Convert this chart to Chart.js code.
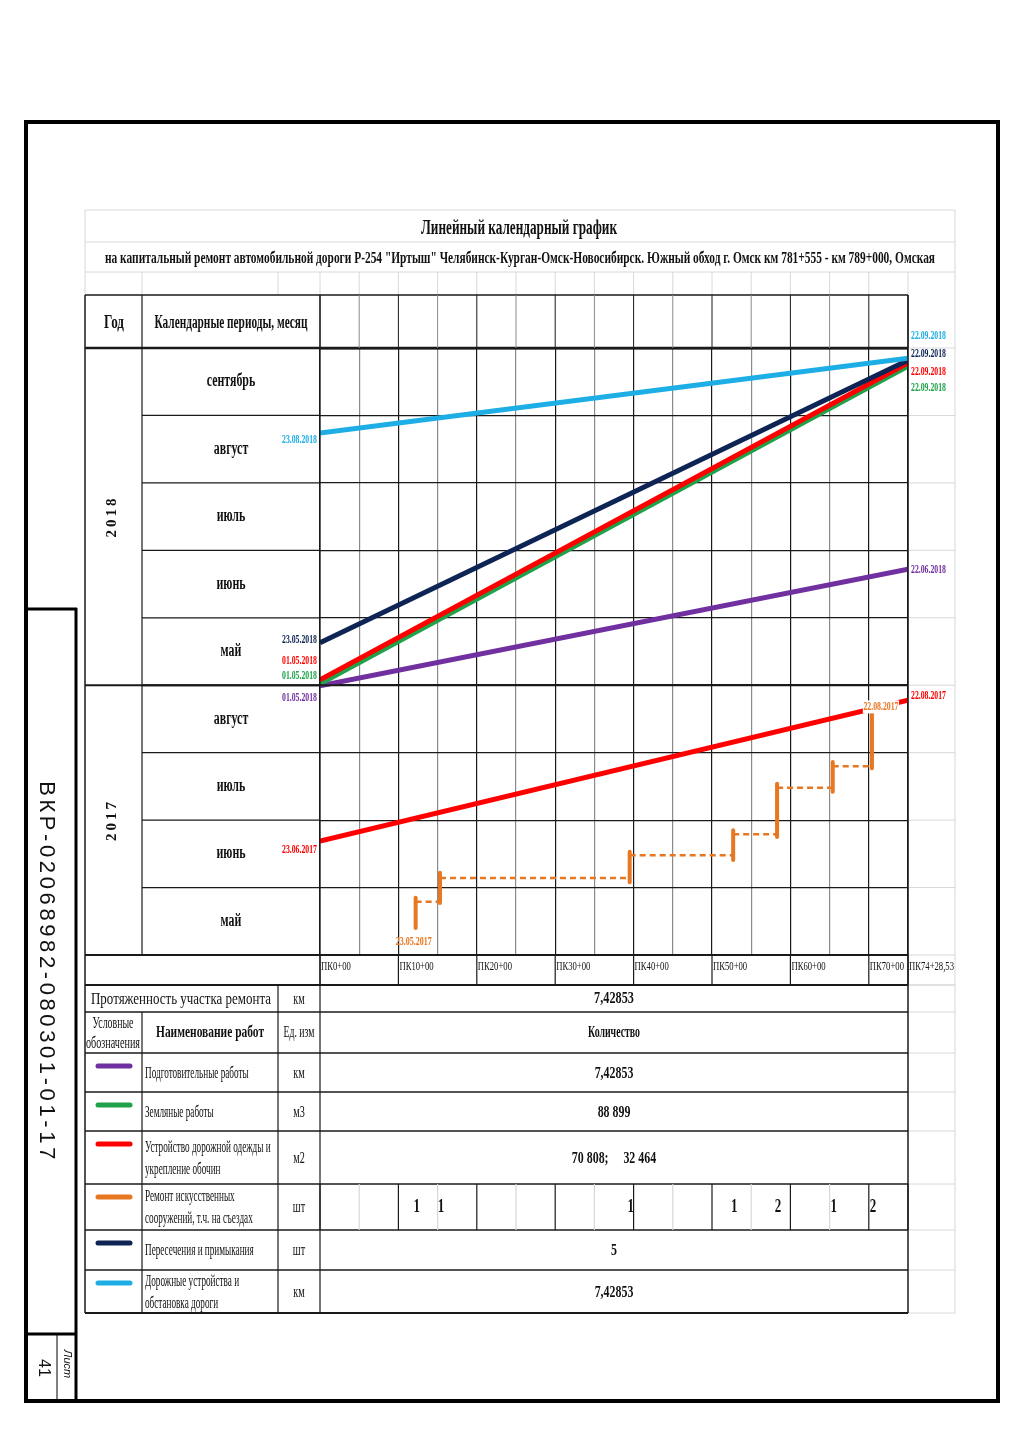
<!DOCTYPE html>
<html>
<head>
<meta charset="utf-8">
<script src="https://cdn.jsdelivr.net/npm/chart.js@4.4.0/dist/chart.umd.min.js"></script>
<style>
  html, body { margin: 0; padding: 0; background: #fff; }
  canvas { display: block; }
</style>
</head>
<body>
<canvas id="grafik" width="1024" height="1449"></canvas>
<script>
// rows of the calendar, from the bottom up
const months = ['май', 'июнь', 'июль', 'август', 'май', 'июнь', 'июль', 'август', 'сентябрь'];
const years = ['2017', '2018'];
const yearRows = [4, 5];

// pickets along the road (right edge of grid = ПК74+28,53)
const END_PK = 75;
const pkTicks = [0, 10, 20, 30, 40, 50, 60, 70, 75];
const pkLabels = ['ПК0+00', 'ПК10+00', 'ПК20+00', 'ПК30+00', 'ПК40+00', 'ПК50+00', 'ПК60+00', 'ПК70+00', 'ПК74+28,53'];

// straight work lines, y in calendar rows
const lineKeys = ['signs', 'cross', 'pave', 'earth', 'prep', 'pave'];
const lineStart = [7.74, 4.63, 4.08, 4.02, 3.99, 1.69];
const lineEnd = [8.85, 8.82, 8.78, 8.73, 5.72, 3.78];
const lineStartDate = ['23.08.2018', '23.05.2018', '01.05.2018', '01.05.2018', '01.05.2018', '23.06.2017'];
const lineEndDate = ['22.09.2018', '22.09.2018', '22.09.2018', '22.09.2018', '22.06.2018', '22.08.2017'];

// bridges / structures (orange steps)
const bridgePK = [12.2, 15.3, 39.5, 52.7, 58.3, 65.4, 70.4];
const bridgeFrom = [0.40, 0.77, 1.08, 1.41, 1.75, 2.42, 2.77];
const bridgeTo = [0.85, 1.22, 1.53, 1.85, 2.54, 2.86, 3.59];
const bridgeLink = [0.79, 1.14, 1.48, 1.79, 2.48, 2.80];
const bridgeCount = [1, 1, 1, 1, 2, 1, 2];
const bridgeDates = ['23.05.2017', '22.08.2017'];

// works table
const workKeys = ['prep', 'earth', 'pave', 'bridge', 'cross', 'signs'];
const workNames = [
  ['Подготовительные работы'],
  ['Земляные работы'],
  ['Устройство дорожной одежды и', 'укрепление обочин'],
  ['Ремонт искусственных', 'сооружений, т.ч. на съездах'],
  ['Пересечения и примыкания'],
  ['Дорожные устройства и', 'обстановка дороги']
];
const workUnits = ['км', 'м3', 'м2', 'шт', 'шт', 'км'];
const workQty = ['7,42853', '88 899', '70 808;     32 464', '', '5', '7,42853'];
const sectionLength = '7,42853';

const colors = {
  prep: '#7030a0',
  earth: '#1fa24a',
  pave: '#ff0000',
  bridge: '#e87722',
  cross: '#0e2454',
  signs: '#1eaee6'
};

// label offsets (px) next to line ends
const startLabelDy = [7, -3, -19, -8, 12, 9];
const endLabelDy = [-22, -6, 9, 21, 0, -4];

const datasets = lineKeys.map((k, i) => ({
  data: [{ x: 0, y: lineStart[i] }, { x: END_PK, y: lineEnd[i] }],
  borderColor: colors[k],
  borderWidth: 5,
  borderCapStyle: 'butt'
}));

const bridgeSolid = [];
bridgePK.forEach((pk, i) => {
  bridgeSolid.push({ x: pk, y: bridgeFrom[i] }, { x: pk, y: bridgeTo[i] }, { x: pk, y: null });
});
const bridgeDashed = [];
bridgeLink.forEach((lv, i) => {
  bridgeDashed.push({ x: bridgePK[i], y: lv }, { x: bridgePK[i + 1], y: lv }, { x: bridgePK[i + 1], y: null });
});
datasets.push({ data: bridgeSolid, borderColor: colors.bridge, borderWidth: 4, borderCapStyle: 'round' });
datasets.push({ data: bridgeDashed, borderColor: colors.bridge, borderWidth: 2.5, borderDash: [6, 4] });

function txt(ctx, s, x, y, o = {}) {
  ctx.save();
  ctx.font = (o.italic ? 'italic ' : '') + (o.bold ? 'bold ' : '') + (o.size || 14) + 'px ' + (o.family || '"Liberation Serif"');
  ctx.fillStyle = o.color || '#111';
  ctx.textBaseline = 'middle';
  ctx.textAlign = o.align || 'center';
  if (o.spacing) ctx.letterSpacing = o.spacing;
  ctx.translate(x, y);
  if (o.rot) ctx.rotate(o.rot);
  let sx = o.sx || 0.74;
  if (o.w) sx = o.w / ctx.measureText(s).width;
  ctx.scale(sx, 1);
  if (o.bg) {
    const w = ctx.measureText(s).width;
    const x0 = ctx.textAlign === 'center' ? -w / 2 : ctx.textAlign === 'right' ? -w : 0;
    ctx.fillStyle = o.bg;
    ctx.fillRect(x0 - 1, -(o.size || 14) * 0.5, w + 2, (o.size || 14));
    ctx.fillStyle = o.color || '#111';
  }
  ctx.fillText(s, 0, 0);
  ctx.restore();
}

function ln(ctx, x1, y1, x2, y2, color, w) {
  ctx.save();
  ctx.strokeStyle = color;
  ctx.lineWidth = w;
  ctx.beginPath();
  ctx.moveTo(x1, y1);
  ctx.lineTo(x2, y2);
  ctx.stroke();
  ctx.restore();
}

const DARK = '#1a1a1a';
const MINOR = '#8a8a8a';
const LIGHT = '#d8d8d8';

const sheet = {
  id: 'sheet',
  beforeDraw(chart) {
    const ctx = chart.ctx;
    ctx.save();
    ctx.fillStyle = '#fff';
    ctx.fillRect(0, 0, chart.width, chart.height);
    ctx.restore();
  },
  afterDraw(chart) {
    const { ctx, chartArea: a, scales: { x, y } } = chart;
    const L = 85, C1 = 142, C2 = 278, R2 = 955;
    const gridX = [];
    for (let v = 0; v <= END_PK; v += 5) gridX.push({ v, px: x.getPixelForValue(v) });
    const isMajor = v => v % 10 === 0 || v === END_PK;

    // title block (light spreadsheet lines)
    [210, 242, 272].forEach(yy => ln(ctx, L, yy, R2, yy, LIGHT, 1));
    ln(ctx, L, 210, L, 295, LIGHT, 1);
    ln(ctx, R2, 210, R2, 1313, LIGHT, 1);
    [C1, C2].forEach(xx => ln(ctx, xx, 272, xx, 295, LIGHT, 1));
    gridX.forEach(g => ln(ctx, g.px, 272, g.px, 295, LIGHT, 1));
    txt(ctx, 'Линейный календарный график', 519, 229, { size: 21, bold: true, w: 196 });
    txt(ctx, 'на капитальный ремонт автомобильной дороги Р-254 "Иртыш" Челябинск-Курган-Омск-Новосибирск. Южный обход г. Омск км 781+555 - км 789+000, Омская',
      520, 259, { size: 17, bold: true, w: 830 });

    // header row
    ln(ctx, L, 295, a.right, 295, DARK, 1.5);
    ln(ctx, L, a.top, a.right, a.top, DARK, 2.5);
    gridX.forEach(g => ln(ctx, g.px, 295, g.px, a.top, isMajor(g.v) ? DARK : MINOR, 1));
    txt(ctx, 'Год', 114, 323, { size: 18, bold: true, w: 20 });
    txt(ctx, 'Календарные периоды, месяц', 231, 323, { size: 18, bold: true, w: 153 });

    // left columns
    ln(ctx, L, 295, L, 1313, DARK, 1.5);
    ln(ctx, C1, 295, C1, a.bottom, DARK, 1.2);
    ln(ctx, a.left, 295, a.left, 985, DARK, 1.2);
    for (let r = 0; r < months.length; r++) {
      const top = y.getPixelForValue(r + 1);
      const bot = y.getPixelForValue(r);
      ln(ctx, C1, bot, a.left, bot, DARK, r === 4 ? 2 : 1.2);
      ln(ctx, a.right, bot, R2, bot, LIGHT, 1);
      txt(ctx, months[r], 231, (top + bot) / 2, { size: 18, bold: true, sx: 0.66 });
    }
    ln(ctx, a.right, a.top, R2, a.top, LIGHT, 1);
    let r0 = 0;
    years.forEach((yr, i) => {
      const r1 = r0 + yearRows[i];
      const mid = (y.getPixelForValue(r0) + y.getPixelForValue(r1)) / 2;
      txt(ctx, yr, 112, mid, { size: 15, bold: true, rot: -Math.PI / 2, sx: 1, spacing: '3px' });
      r0 = r1;
    });
    ln(ctx, L, y.getPixelForValue(4), a.right, y.getPixelForValue(4), DARK, 2);
    ln(ctx, L, a.bottom, a.right, a.bottom, DARK, 2);

    // picket row
    ln(ctx, L, 985, a.right, 985, DARK, 2);
    pkTicks.forEach((v, i) => {
      const px = x.getPixelForValue(v);
      ln(ctx, px, a.bottom, px, 985, DARK, 1.2);
      txt(ctx, pkLabels[i], px + 1, 967, { size: 12, align: 'left', sx: 0.72 });
    });
    ln(ctx, a.right, 985, R2, 985, LIGHT, 1);

    // works table
    const rows = [985, 1012, 1053, 1092, 1131, 1184, 1230, 1270, 1313];
    rows.forEach((yy, i) => {
      ln(ctx, L, yy, a.right, yy, DARK, i === 0 || i === rows.length - 1 ? 2 : 1.5);
      ln(ctx, a.right, yy, R2, yy, LIGHT, 1);
    });
    ln(ctx, C1, rows[1], C1, rows[8], DARK, 1.2);
    ln(ctx, C2, rows[0], C2, rows[8], DARK, 1.2);
    ln(ctx, a.left, rows[0], a.left, rows[8], DARK, 1.2);
    ln(ctx, a.right, 295, a.right, rows[8], DARK, 1.5);
    const qx = (a.left + a.right) / 2;
    const tf = { size: 17, sx: 0.6 };
    const nf = { size: 17, align: 'left', sx: 0.54 };
    txt(ctx, 'Протяженность участка ремонта', 181, 1000, { size: 17, w: 180 });
    txt(ctx, 'км', 299, 1000, tf);
    txt(ctx, sectionLength, qx, 999, { size: 17, bold: true, sx: 0.72 });
    txt(ctx, 'Условные', 113, 1024, { size: 16, w: 41 });
    txt(ctx, 'обозначения', 113, 1044, { size: 16, w: 54 });
    txt(ctx, 'Наименование работ', 210, 1033, { size: 17, bold: true, w: 108 });
    txt(ctx, 'Ед. изм', 299, 1033, { size: 17, w: 31 });
    txt(ctx, 'Количество', qx, 1033, { size: 17, bold: true, w: 52 });
    workKeys.forEach((k, i) => {
      const t = rows[i + 2], b = rows[i + 3], mid = (t + b) / 2;
      ctx.save();
      ctx.strokeStyle = colors[k];
      ctx.lineWidth = 5;
      ctx.lineCap = 'round';
      ctx.beginPath();
      ctx.moveTo(98, t + 13);
      ctx.lineTo(130, t + 13);
      ctx.stroke();
      ctx.restore();
      const nm = workNames[i];
      if (nm.length === 1) {
        txt(ctx, nm[0], 145, mid + 1, nf);
      } else {
        txt(ctx, nm[0], 145, mid - 10, nf);
        txt(ctx, nm[1], 145, mid + 12, nf);
      }
      txt(ctx, workUnits[i], 299, mid + 1, tf);
      if (workQty[i]) txt(ctx, workQty[i], qx, mid + 1, { size: 17, bold: true, sx: 0.7 });
    });
    // structure counts per picket
    gridX.forEach(g => ln(ctx, g.px, rows[5], g.px, rows[6], isMajor(g.v) ? DARK : LIGHT, 1.2));
    bridgePK.forEach((pk, i) => {
      txt(ctx, String(bridgeCount[i]), x.getPixelForValue(pk) + 1, 1207, { size: 18, bold: true, sx: 0.72 });
    });

    // date labels at line ends
    lineKeys.forEach((k, i) => {
      const c = colors[k];
      txt(ctx, lineStartDate[i], a.left - 3, y.getPixelForValue(lineStart[i]) + startLabelDy[i],
        { size: 13, bold: true, align: 'right', color: c, w: 35 });
      txt(ctx, lineEndDate[i], a.right + 3, y.getPixelForValue(lineEnd[i]) + endLabelDy[i],
        { size: 13, bold: true, align: 'left', color: c, w: 35 });
    });
    txt(ctx, bridgeDates[0], x.getPixelForValue(bridgePK[0]) - 2, y.getPixelForValue(bridgeFrom[0]) + 14,
      { size: 13, bold: true, color: colors.bridge, w: 36 });
    txt(ctx, bridgeDates[1], x.getPixelForValue(bridgePK[6]) + 9, y.getPixelForValue(bridgeTo[6]) - 6,
      { size: 13, bold: true, color: colors.bridge, w: 35, bg: '#fff' });

    // drawing frame and stamp
    ctx.save();
    ctx.strokeStyle = '#000';
    ctx.lineWidth = 4;
    ctx.strokeRect(26, 122, 972, 1279);
    ctx.restore();
    ln(ctx, 25, 609, 77, 609, '#000', 3);
    ln(ctx, 76, 608, 76, 1403, '#000', 3);
    ln(ctx, 25, 1334, 77, 1334, '#000', 3);
    ln(ctx, 57, 1334, 57, 1401, '#000', 1);
    txt(ctx, 'ВКР-02068982-080301-01-17', 46, 972, { size: 22, family: '"Liberation Sans"', rot: Math.PI / 2, sx: 1, spacing: '3.6px' });
    txt(ctx, '41', 43, 1368, { size: 16, family: '"Liberation Sans"', rot: Math.PI / 2, sx: 1 });
    txt(ctx, 'Лист', 67, 1364, { size: 11, italic: true, family: '"Liberation Sans"', rot: Math.PI / 2, sx: 1 });
  }
};

new Chart(document.getElementById('grafik'), {
  type: 'line',
  data: { datasets },
  options: {
    responsive: false,
    animation: false,
    layout: { padding: { left: 320, right: 116, top: 348, bottom: 494 } },
    plugins: { legend: { display: false }, tooltip: { enabled: false } },
    elements: { point: { radius: 0 }, line: { tension: 0 } },
    scales: {
      x: {
        type: 'linear', min: 0, max: END_PK,
        ticks: { display: false, stepSize: 5 },
        grid: {
          drawTicks: false,
          color: c => (c.tick.value % 10 === 0 || c.tick.value === END_PK) ? DARK : MINOR,
          lineWidth: 1.2
        },
        border: { display: false }
      },
      y: {
        type: 'linear', min: 0, max: 9,
        ticks: { display: false, stepSize: 1 },
        grid: {
          drawTicks: false,
          color: DARK,
          lineWidth: c => c.tick.value === 4 ? 2 : (c.tick.value === 9 ? 2.5 : 1.2)
        },
        border: { display: false }
      }
    }
  },
  plugins: [sheet]
});
</script>
</body>
</html>
